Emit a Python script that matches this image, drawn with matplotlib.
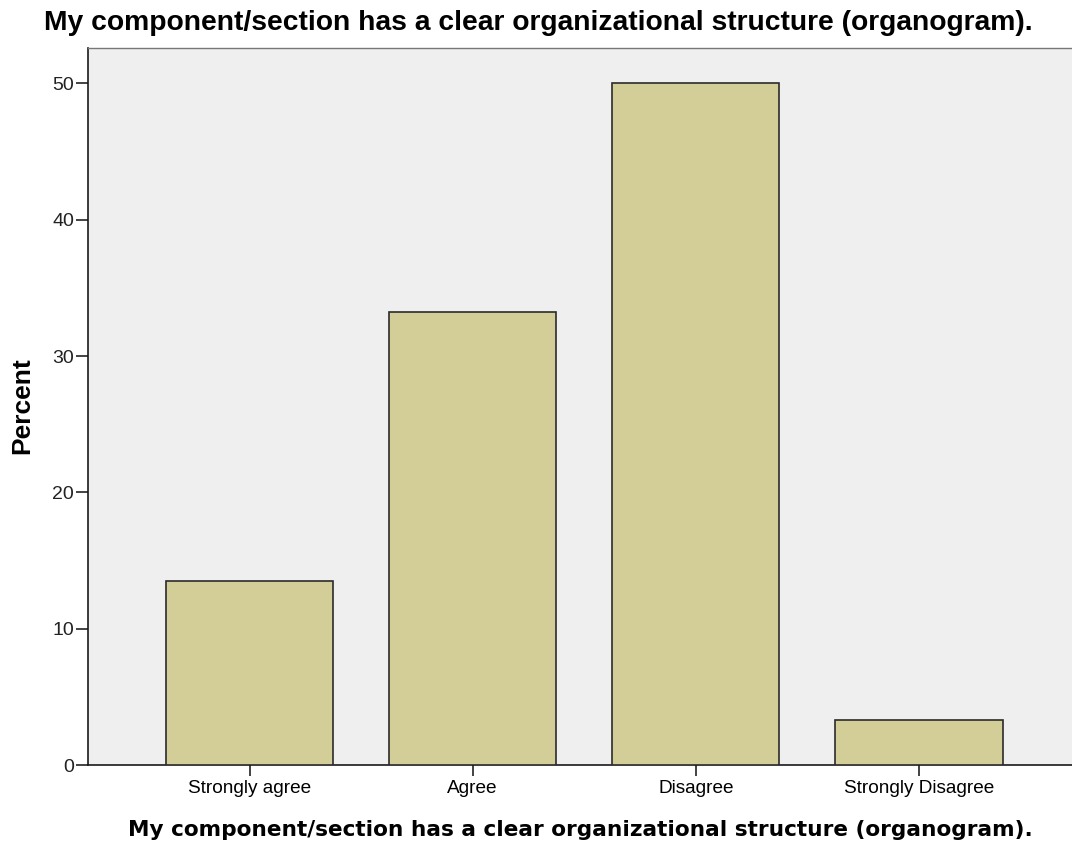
import matplotlib
matplotlib.use("Agg")
import matplotlib.pyplot as plt

categories = ["Strongly agree", "Agree", "Disagree", "Strongly Disagree"]
percent = [13.5, 33.2, 50.0, 3.3]
yticks = [0, 10, 20, 30, 40, 50]
title = "My component/section has a clear organizational structure (organogram)."
xlabel = "My component/section has a clear organizational structure (organogram)."
ylabel = "Percent"

fig = plt.figure(figsize=(10.72, 8.48), dpi=100)
W, H = 1072, 848
ax = fig.add_axes([88 / W, 1 - 765 / H, (1072 - 88) / W, (765 - 48) / H])
ax.set_facecolor("#EFEFEF")

x = list(range(len(categories)))
ax.bar(x, percent, width=0.75, color="#D3CD97", edgecolor="#2b2b2b", linewidth=1.2, zorder=3)

ax.set_xlim(-0.724, 3.686)
ax.set_ylim(0, (765 - 48) / 13.63)
ax.set_yticks(yticks)
ax.set_xticks(x)
ax.set_xticklabels(categories, fontsize=13.7, family="Liberation Sans")
ax.set_yticklabels([str(t) for t in yticks], fontsize=14, family="Liberation Sans", color="#222222")
ax.tick_params(axis="x", length=8, width=1.2, color="#222222", pad=3)
ax.tick_params(axis="y", length=9, width=1.2, color="#222222", pad=1)

for s in ["left", "bottom"]:
    ax.spines[s].set_color("#1a1a1a")
    ax.spines[s].set_linewidth(1.2)
ax.spines["top"].set_color("#777777")
ax.spines["top"].set_linewidth(1.0)
ax.spines["right"].set_visible(False)

fig.text(22 / W, 1 - 406 / H, ylabel, fontsize=19, fontweight="bold", family="Liberation Sans",
         rotation=90, ha="center", va="center")
fig.text(580 / W, 1 - 830 / H, xlabel, fontsize=15.6, fontweight="bold", family="DejaVu Sans",
         ha="center", va="center")
fig.text(538 / W, 1 - 23 / H, title, fontsize=20.3, fontweight="bold", family="Liberation Sans",
         ha="center", va="center")

fig.savefig("out.png", dpi=100)
